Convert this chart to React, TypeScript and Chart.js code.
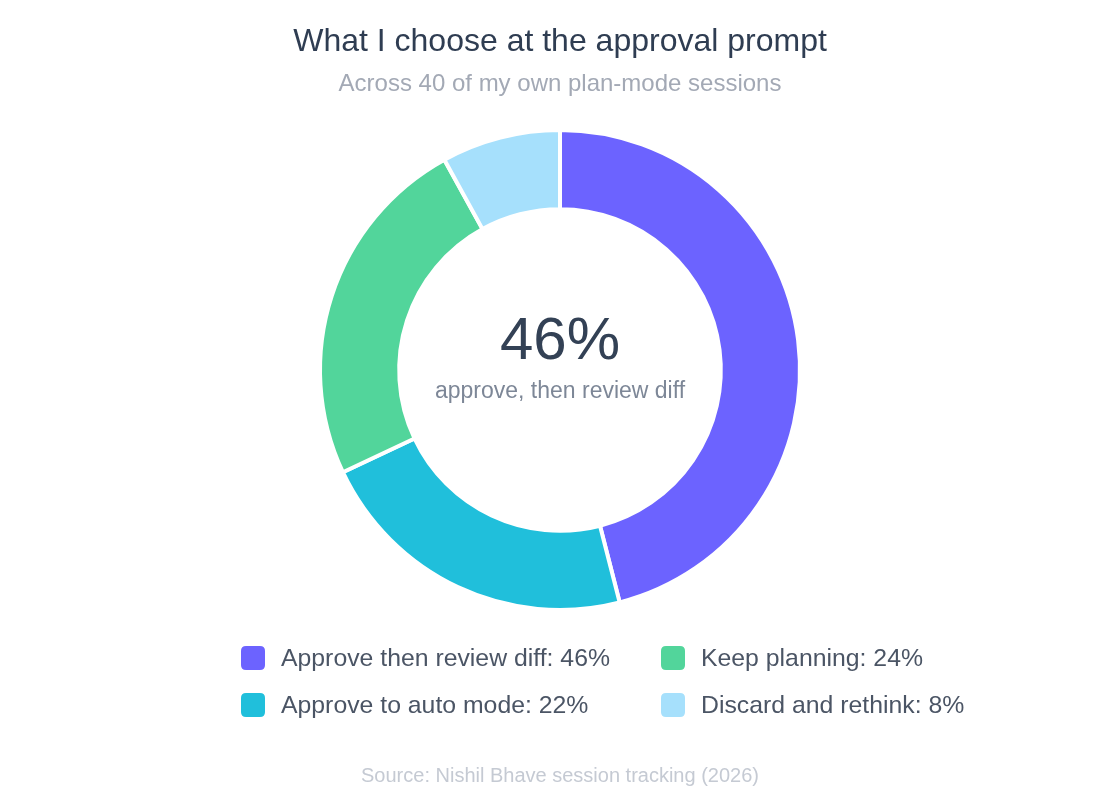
import React, { useEffect, useRef } from "react";
import { Chart, registerables } from "chart.js";

Chart.register(...registerables);

const categories = [
  "Approve then review diff",
  "Approve to auto mode",
  "Keep planning",
  "Discard and rethink",
];
const shares = [46, 22, 24, 8];
const colors = ["#6C63FF", "#20BFDB", "#52D59B", "#A6E0FC"];
const legendOrder = [0, 2, 1, 3];
const titleText = "What I choose at the approval prompt";
const subtitleText = "Across 40 of my own plan-mode sessions";
const centerValue = "46%";
const centerLabel = "approve, then review diff";
const sourceText = "Source: Nishil Bhave session tracking (2026)";

const FONT = "'Liberation Sans', Arial, Helvetica, sans-serif";

function roundRect(ctx: CanvasRenderingContext2D, x: number, y: number, w: number, h: number, r: number) {
  ctx.beginPath();
  ctx.moveTo(x + r, y);
  ctx.lineTo(x + w - r, y);
  ctx.quadraticCurveTo(x + w, y, x + w, y + r);
  ctx.lineTo(x + w, y + h - r);
  ctx.quadraticCurveTo(x + w, y + h, x + w - r, y + h);
  ctx.lineTo(x + r, y + h);
  ctx.quadraticCurveTo(x, y + h, x, y + h - r);
  ctx.lineTo(x, y + r);
  ctx.quadraticCurveTo(x, y, x + r, y);
  ctx.closePath();
}

const decorPlugin = {
  id: "decor",
  afterDraw(chart: any) {
    const ctx = chart.ctx as CanvasRenderingContext2D;
    const { chartArea } = chart;
    const cx = (chartArea.left + chartArea.right) / 2;
    const cy = (chartArea.top + chartArea.bottom) / 2;
    ctx.save();
    ctx.textAlign = "center";
    ctx.textBaseline = "middle";
    // title
    ctx.fillStyle = "#2F3D52";
    ctx.font = `32px ${FONT}`;
    ctx.fillText(titleText, 560, 42);
    ctx.fillStyle = "#A3A9B5";
    ctx.font = `24px ${FONT}`;
    ctx.fillText(subtitleText, 560, 84);
    // center
    ctx.fillStyle = "#334155";
    ctx.font = `60px ${FONT}`;
    ctx.fillText(centerValue, cx, cy - 28);
    ctx.fillStyle = "#7D8797";
    ctx.font = `23px ${FONT}`;
    ctx.fillText(centerLabel, cx, cy + 22);
    // legend
    ctx.textAlign = "left";
    ctx.font = `24.8px ${FONT}`;
    const colX = [241, 661];
    const rowY = [658, 705];
    legendOrder.forEach((idx, k) => {
      const x = colX[k % 2];
      const y = rowY[Math.floor(k / 2)];
      ctx.fillStyle = colors[idx];
      roundRect(ctx, x, y - 12, 24, 24, 5);
      ctx.fill();
      ctx.fillStyle = "#4B5565";
      ctx.fillText(`${categories[idx]}: ${shares[idx]}%`, x + 40, y + 1);
    });
    // source
    ctx.textAlign = "center";
    ctx.fillStyle = "#C5CAD3";
    ctx.font = `20px ${FONT}`;
    ctx.fillText(sourceText, 560, 776);
    ctx.restore();
  },
};

export default function App() {
  const ref = useRef<HTMLCanvasElement | null>(null);
  useEffect(() => {
    document.body.style.margin = "0";
    const chart = new Chart(ref.current as HTMLCanvasElement, {
      type: "doughnut",
      data: {
        labels: categories,
        datasets: [
          {
            data: shares,
            backgroundColor: colors,
            borderColor: "#ffffff",
            borderWidth: 4,
            hoverOffset: 0,
          },
        ],
      },
      options: {
        responsive: false,
        animation: false,
        cutout: "67%",
        layout: { padding: { top: 128, bottom: 188, left: 300, right: 300 } },
        plugins: {
          legend: { display: false },
          tooltip: { enabled: false },
          title: { display: false },
        },
      },
      plugins: [decorPlugin],
    });
    return () => chart.destroy();
  }, []);
  return (
    <div style={{ width: 1120, height: 800, background: "#fff" }}>
      <canvas ref={ref} width={1120} height={800} style={{ display: "block" }} />
    </div>
  );
}
